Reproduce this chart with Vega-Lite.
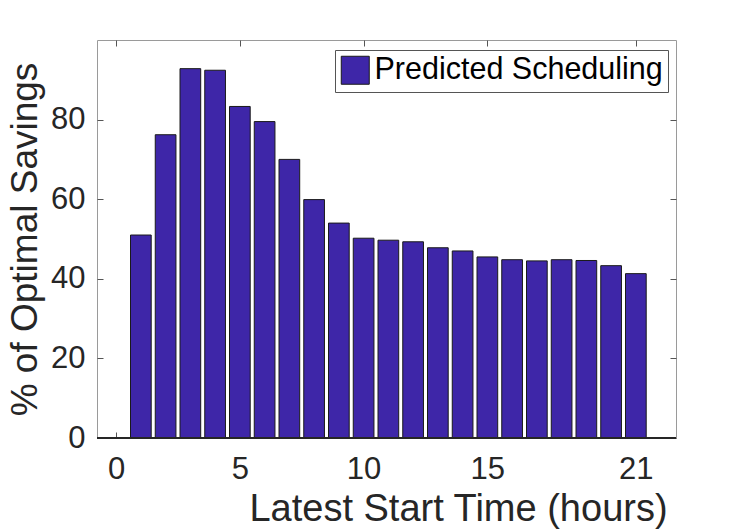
{
  "$schema": "https://vega.github.io/schema/vega-lite/v6.json",
  "width": 579,
  "height": 398,
  "autosize": {"type": "none"},
  "padding": {"left": 97, "top": 40, "right": 71, "bottom": 94},
  "config": {
    "view": {"stroke": "#9a9a9a", "strokeWidth": 1},
    "font": "Liberation Sans"
  },
  "data": {
    "values": [
      {"hours": 1, "savings": 51.0},
      {"hours": 2, "savings": 76.2},
      {"hours": 3, "savings": 92.8},
      {"hours": 4, "savings": 92.4},
      {"hours": 5, "savings": 83.3},
      {"hours": 6, "savings": 79.5},
      {"hours": 7, "savings": 70.0},
      {"hours": 8, "savings": 59.9},
      {"hours": 9, "savings": 54.0},
      {"hours": 10, "savings": 50.2},
      {"hours": 11, "savings": 49.7},
      {"hours": 12, "savings": 49.3},
      {"hours": 13, "savings": 47.8},
      {"hours": 14, "savings": 47.0},
      {"hours": 15, "savings": 45.5},
      {"hours": 16, "savings": 44.8},
      {"hours": 17, "savings": 44.5},
      {"hours": 18, "savings": 44.8},
      {"hours": 19, "savings": 44.6},
      {"hours": 20, "savings": 43.3},
      {"hours": 21, "savings": 41.3}
    ]
  },
  "layer": [
    {
      "mark": {"type": "bar", "size": 20.7, "stroke": "#1a1a1a", "strokeWidth": 1},
      "encoding": {
        "x": {
          "field": "hours", "type": "quantitative",
          "scale": {"domain": [-0.57, 22.42], "nice": false, "zero": false},
          "axis": {
            "orient": "bottom", "values": [0, 5, 10, 15, 21],
            "domain": false, "grid": false,
            "tickSize": -6, "tickColor": "#555555",
            "labelFontSize": 31, "labelColor": "#262626", "labelPadding": 22,
            "title": "Latest Start Time (hours)",
            "titleFontSize": 38, "titleFontWeight": "normal", "titleColor": "#262626",
            "titleX": 361, "titleY": 82, "titleAlign": "center", "titleBaseline": "alphabetic"
          }
        },
        "y": {
          "field": "savings", "type": "quantitative",
          "scale": {"domain": [0, 100], "nice": false},
          "axis": {
            "orient": "left", "values": [0, 20, 40, 60, 80],
            "domain": false, "grid": false,
            "tickSize": -6, "tickColor": "#555555",
            "labelFontSize": 31, "labelColor": "#262626", "labelPadding": 18,
            "title": "% of Optimal Savings",
            "titleFontSize": 37, "titleFontWeight": "normal", "titleColor": "#262626",
            "titleX": -61, "titleY": 199, "titleAlign": "center", "titleBaseline": "alphabetic", "titleAngle": -90
          }
        },
        "color": {
          "datum": "Predicted Scheduling",
          "scale": {"range": ["#3e26a8"]},
          "legend": {
            "title": null, "orient": "none", "legendX": 238, "legendY": 10,
            "strokeColor": "#555555", "fillColor": "#ffffff", "padding": 5,
            "symbolType": "square", "symbolSize": 784,
            "symbolStrokeColor": "#1a1a1a", "symbolStrokeWidth": 1, "symbolOpacity": 1,
            "labelFontSize": 30.5, "labelColor": "#000000", "labelOffset": 4, "labelLimit": 500
          }
        }
      }
    },
    {
      "mark": {"type": "bar", "size": 20.7, "opacity": 0},
      "encoding": {
        "x": {
          "field": "hours", "type": "quantitative",
          "axis": {"orient": "top", "values": [0, 5, 10, 15, 21], "domain": false, "grid": false, "labels": false, "title": null, "tickSize": -6, "tickColor": "#555555"}
        },
        "y": {
          "field": "savings", "type": "quantitative",
          "axis": {"orient": "right", "values": [0, 20, 40, 60, 80], "domain": false, "grid": false, "labels": false, "title": null, "tickSize": -6, "tickColor": "#555555"}
        }
      }
    },
    {
      "mark": {"type": "rule", "color": "#262626", "strokeWidth": 1},
      "encoding": {"y": {"datum": 0, "axis": null}}
    }
  ],
  "resolve": {"axis": {"x": "independent", "y": "independent"}}
}
